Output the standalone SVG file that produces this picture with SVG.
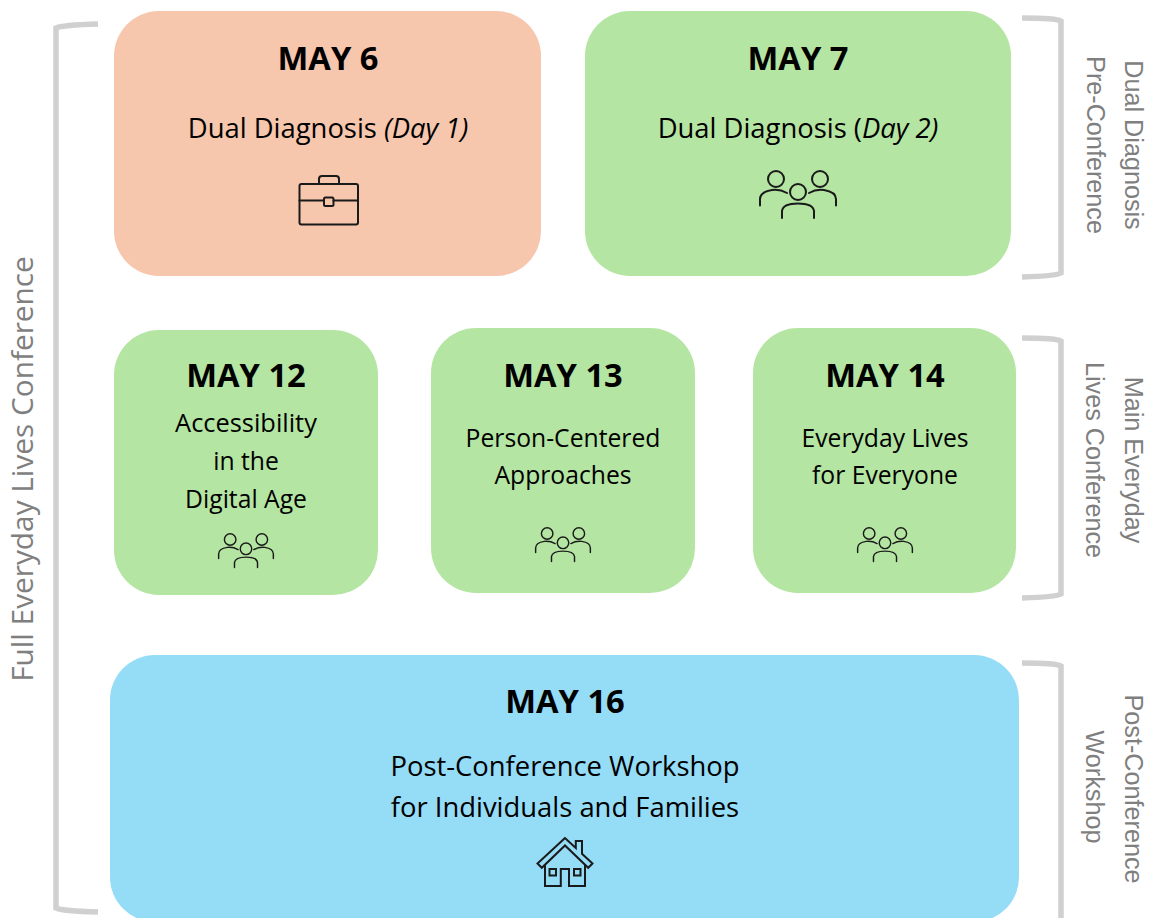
<svg xmlns="http://www.w3.org/2000/svg" width="1149" height="918" viewBox="0 0 1149 918">
<style>
text{font-family:"Open Sans","Noto Sans","Liberation Sans",sans-serif;text-anchor:middle;fill:#000}
.d{font-size:32.700px;font-weight:700}
.t{font-size:27.400px}
.s{font-size:25.400px}
.s2{font-size:24.700px}
.g{fill:#7f7f7f}
.side{font-family:"Liberation Sans",Arial,sans-serif;font-size:25.200px}
.o{fill:#f6c6ad}.n{fill:#b4e5a2}.b{fill:#95dcf7}
.br{fill:none;stroke:#d0d0d0;stroke-width:5.5}
.i{fill:none;stroke:#1a1a1a;stroke-width:2;stroke-linecap:round;stroke-linejoin:round}
</style>
<defs>
<g id="people" class="i">
<circle cx="-22" cy="-16" r="8"/><circle cx="0" cy="-3" r="8"/><circle cx="22" cy="-16" r="8"/>
<path d="M-38 10.500V4Q-38 -3 -26 -5Q-18 -6 -11 -2"/>
<path d="M38 10.500V4Q38 -3 26 -5Q18 -6 11 -2"/>
<path d="M-16 23V16Q-15 8.500 0 8.500Q15 8.500 16 16V23"/>
</g>
</defs>
<g id="connectors">
<path class="br" d="M98 24Q62 25 56 28V908Q62 911 98 912"/>
<path class="br" d="M1022 18Q1056 18 1061 21V273Q1056 276 1022 277"/>
<path class="br" d="M1022 338Q1056 338 1061 341V594Q1056 597 1022 598"/>
<path class="br" d="M1022 663Q1056 663 1061 666V918"/>
</g>
<g id="full-label"><text class="g" style="font-size:29.800px" transform="translate(33 469) rotate(-90)">Full Everyday Lives Conference</text></g>
<g id="may6">
<rect class="o" x="114" y="11" width="427" height="265" rx="45"/>
<text class="d" x="328" y="70">MAY 6</text>
<text class="t" x="328" y="137.500">Dual Diagnosis <tspan font-style="italic">(Day 1)</tspan></text>
<g class="i"><rect x="299.500" y="184" width="58.500" height="40.500" rx="2"/><path d="M319 184V179Q319 176 322 176H336Q339 176 339 179V184M299.500 200.500H324M333.500 200.500H358"/><rect x="324" y="197.500" width="9.500" height="8.500" rx="1.500"/></g>
</g>
<g id="may7">
<rect class="n" x="585" y="11" width="426" height="265" rx="45"/>
<text class="d" x="798" y="70">MAY 7</text>
<text class="t" x="798" y="137.500">Dual Diagnosis (<tspan font-style="italic">Day 2)</tspan></text>
<use href="#people" transform="translate(798 195)"/>
</g>
<g id="may12">
<rect class="n" x="114" y="330" width="264" height="265" rx="45"/>
<text class="d" x="246" y="387">MAY 12</text>
<text class="s" x="246" y="431.500">Accessibility</text>
<text class="s2" x="246" y="469.500">in the</text>
<text class="s2" x="246" y="507.500">Digital Age</text>
<use href="#people" transform="translate(246 551) scale(.72)"/>
</g>
<g id="may13">
<rect class="n" x="431" y="328" width="264" height="265" rx="45"/>
<text class="d" x="563" y="387">MAY 13</text>
<text class="s2" x="563" y="446.500">Person-Centered</text>
<text class="s2" x="563" y="483.500">Approaches</text>
<use href="#people" transform="translate(563 545) scale(.72)"/>
</g>
<g id="may14">
<rect class="n" x="753" y="328" width="263" height="265" rx="45"/>
<text class="d" x="885" y="387">MAY 14</text>
<text class="s2" x="885" y="446.500">Everyday Lives</text>
<text class="s2" x="885" y="483.500">for Everyone</text>
<use href="#people" transform="translate(885 545) scale(.72)"/>
</g>
<g id="may16">
<rect class="b" x="110" y="655" width="909" height="267" rx="45"/>
<text class="d" x="565" y="713">MAY 16</text>
<text class="t" x="565" y="775.500">Post-Conference Workshop</text>
<text class="t" x="565" y="816.500">for Individuals and Families</text>
<g fill="none" stroke="#1a1a1a" stroke-width="2" stroke-linejoin="miter">
<path d="M565 838L537.500 863.500L541.800 867.800L565 845.500L588.200 867.800L592.500 863.500L582 853.800V841H575.800V848Z"/>
<path d="M545 864.500V886H560.800V869H569V886H585V864.500"/>
<rect x="549.500" y="869" width="6.500" height="6.500"/><rect x="574" y="869" width="6.500" height="6.500"/>
</g>
</g>
<g id="side-labels">
<g transform="translate(1125 145) rotate(90)"><text class="g side" y="0">Dual Diagnosis</text></g>
<g transform="translate(1087 145) rotate(90)"><text class="g side" y="0">Pre-Conference</text></g>
<g transform="translate(1125 460) rotate(90)"><text class="g side" y="0">Main Everyday</text></g>
<g transform="translate(1086 460) rotate(90)"><text class="g side" y="0">Lives Conference</text></g>
<g transform="translate(1125 789) rotate(90)"><text class="g side" y="0">Post-Conference</text></g>
<g transform="translate(1086 787) rotate(90)"><text class="g side" y="0">Workshop</text></g>
</g>
</svg>
